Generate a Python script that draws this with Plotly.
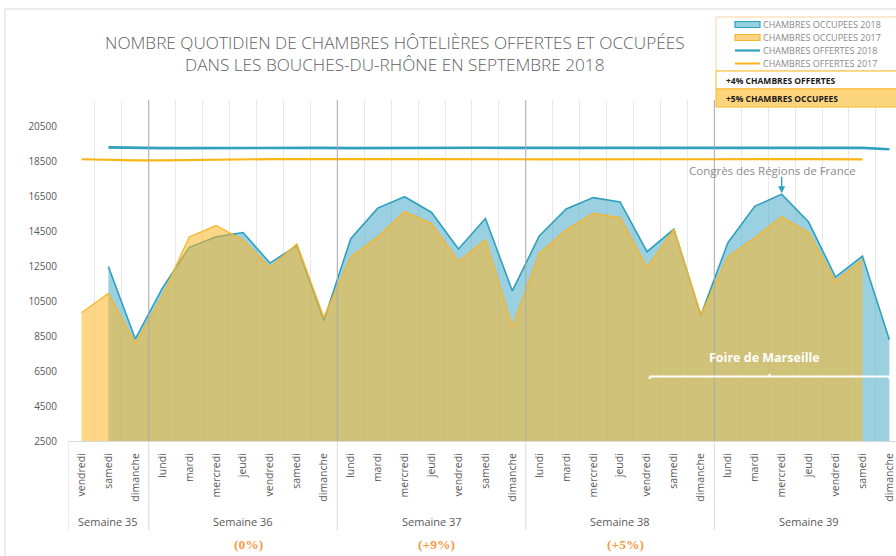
import plotly.graph_objects as go

# ---------------- data ----------------
day_labels = ["vendredi", "samedi", "dimanche"] + \
    ["lundi", "mardi", "mercredi", "jeudi", "vendredi", "samedi", "dimanche"] * 4
week_labels = ["Semaine 35", "Semaine 36", "Semaine 37", "Semaine 38", "Semaine 39"]
week_first_idx = [0, 3, 10, 17, 24]
week_last_idx = [2, 9, 16, 23, 30]
week_change = ["", "(0%)", "(+9%)", "(+5%)", ""]

occupees_2018 = [None, 12500, 8350, 11250, 13600, 14200, 14450, 12700, 13700, 9400,
                 14100, 15850, 16500, 15600, 13500, 15250, 11100,
                 14250, 15800, 16450, 16200, 13350, 14650, 9700,
                 13850, 15950, 16650, 15050, 11900, 13100, 8300]
occupees_2017 = [9850, 10950, 8100, 10800, 14200, 14850, 14000, 12450, 13800, 9600,
                 13050, 14200, 15650, 14950, 12800, 14050, 9050,
                 13250, 14600, 15550, 15300, 12450, 14650, 9750,
                 13050, 14150, 15350, 14450, 11650, 12900, None]
offertes_2018 = [None, 19330, 19300, 19290, 19290, 19300, 19310, 19310, 19310, 19300,
                 19290, 19300, 19310, 19310, 19320, 19310, 19300,
                 19300, 19310, 19320, 19320, 19310, 19300, 19300,
                 19300, 19310, 19320, 19320, 19310, 19300, 19220]
offertes_2017 = [18650, 18610, 18580, 18580, 18610, 18640, 18660, 18660, 18660, 18650,
                 18640, 18650, 18660, 18660, 18670, 18660, 18650,
                 18640, 18650, 18660, 18660, 18660, 18650, 18650,
                 18640, 18650, 18660, 18660, 18650, 18640, None]
y_ticks = [2500, 4500, 6500, 8500, 10500, 12500, 14500, 16500, 18500, 20500]
y_tick_text = [str(v) for v in y_ticks]
title_text = ("NOMBRE QUOTIDIEN DE CHAMBRES HÔTELIÈRES OFFERTES ET OCCUPÉES<br>"
              "DANS LES BOUCHES-DU-RHÔNE EN SEPTEMBRE 2018")

x_idx = list(range(len(day_labels)))

# ---------------- colours ----------------
BLUE_LINE = "#2FA0BD"
BLUE_FILL = "rgba(75,172,198,0.56)"
ORANGE_LINE = "#F7B52C"
ORANGE_FILL = "rgba(252,184,40,0.56)"
GREY_TXT = "#595959"

W, H = 896, 556
ML, MT, MR, MB = 68, 100, 0, 115
PW, PH = W - ML - MR, H - MT - MB


def xp(px):
    return (px - ML) / PW


def yp(py):
    return (H - MB - py) / PH


fig = go.Figure()

fig.add_trace(go.Scatter(x=x_idx, y=occupees_2018, mode="lines", fill="tozeroy",
                         fillcolor=BLUE_FILL, line=dict(color=BLUE_LINE, width=1.6),
                         name="CHAMBRES OCCUPEES 2018", hoverinfo="y"))
fig.add_trace(go.Scatter(x=x_idx, y=occupees_2017, mode="lines", fill="tozeroy",
                         fillcolor=ORANGE_FILL, line=dict(color=ORANGE_LINE, width=1.3),
                         name="CHAMBRES OCCUPEES 2017", hoverinfo="y"))
fig.add_trace(go.Scatter(x=x_idx, y=offertes_2018, mode="lines",
                         line=dict(color=BLUE_LINE, width=2.6),
                         name="CHAMBRES OFFERTES 2018", hoverinfo="y"))
fig.add_trace(go.Scatter(x=x_idx, y=offertes_2017, mode="lines",
                         line=dict(color="#FDB515", width=2.2),
                         name="CHAMBRES OFFERTES 2017", hoverinfo="y"))

px_per_unit = 26.93
x_right = PW / px_per_unit - 0.5

shapes = []
# chart border
shapes.append(dict(type="rect", xref="paper", yref="paper", x0=xp(5), x1=xp(905),
                   y0=yp(575), y1=yp(9), line=dict(color="#D9D9D9", width=1),
                   layer="below"))
# week separators
for i in week_first_idx[1:]:
    shapes.append(dict(type="line", xref="x", yref="paper", x0=i - 0.5, x1=i - 0.5,
                       y0=0, y1=1, line=dict(color="#ABABAB", width=1)))
for i in week_first_idx:
    shapes.append(dict(type="line", xref="x", yref="paper", x0=i - 0.5, x1=i - 0.5,
                       y0=yp(530), y1=0, line=dict(color="#D9D9D9", width=1)))

# Foire de Marseille bracket (white)
bracket_y = 6200
shapes.append(dict(type="line", xref="x", yref="y", x0=21.1, x1=30.0,
                   y0=bracket_y, y1=bracket_y, line=dict(color="white", width=2)))
for xb in (21.1, 30.0):
    shapes.append(dict(type="line", xref="x", yref="y", x0=xb, x1=xb,
                       y0=bracket_y, y1=bracket_y - 150, line=dict(color="white", width=2)))
shapes.append(dict(type="line", xref="x", yref="y", x0=25.55, x1=25.55,
                   y0=bracket_y, y1=bracket_y + 150, line=dict(color="white", width=2)))

# manual legend box
shapes.append(dict(type="rect", xref="paper", yref="paper", x0=xp(716), x1=xp(900),
                   y0=yp(71), y1=yp(17), fillcolor="white",
                   line=dict(color="#F9D3A0", width=1)))
shapes.append(dict(type="rect", xref="paper", yref="paper", x0=xp(716), x1=xp(900),
                   y0=yp(89), y1=yp(71), fillcolor="white",
                   line=dict(color="#FBB829", width=1)))
shapes.append(dict(type="rect", xref="paper", yref="paper", x0=xp(716), x1=xp(900),
                   y0=yp(107), y1=yp(89), fillcolor="#FDD47E",
                   line=dict(color="#FBB829", width=1)))
leg_rows = [24.5, 37.5, 50.5, 63.5]
shapes.append(dict(type="rect", xref="paper", yref="paper", x0=xp(735), x1=xp(760),
                   y0=yp(leg_rows[0] + 3), y1=yp(leg_rows[0] - 3), fillcolor="#93D1DE",
                   line=dict(color=BLUE_LINE, width=1.2)))
shapes.append(dict(type="rect", xref="paper", yref="paper", x0=xp(735), x1=xp(760),
                   y0=yp(leg_rows[1] + 3), y1=yp(leg_rows[1] - 3), fillcolor="#FDD484",
                   line=dict(color=ORANGE_LINE, width=1.2)))
shapes.append(dict(type="line", xref="paper", yref="paper", x0=xp(735), x1=xp(760),
                   y0=yp(leg_rows[2]), y1=yp(leg_rows[2]),
                   line=dict(color=BLUE_LINE, width=2.2)))
shapes.append(dict(type="line", xref="paper", yref="paper", x0=xp(735), x1=xp(760),
                   y0=yp(leg_rows[3]), y1=yp(leg_rows[3]),
                   line=dict(color="#FDB515", width=2)))

annotations = []
# title (two lines in one text)
annotations.append(dict(text=title_text, xref="paper", yref="paper", x=xp(395),
                        y=yp(53.5), xanchor="center", yanchor="middle", showarrow=False,
                        font=dict(family="Open Sans", size=17.2, color="#5F5F5F",
                                  weight=300)))

names = [t.name for t in fig.data]
for name, row in zip(names, leg_rows):
    annotations.append(dict(text=name, xref="paper", yref="paper", x=xp(761), y=yp(row),
                            xanchor="left", yanchor="middle", showarrow=False,
                            font=dict(family="Open Sans", size=9, color="#8A8A8A")))
annotations.append(dict(text="+4% CHAMBRES OFFERTES", xref="paper", yref="paper",
                        x=xp(724), y=yp(80), xanchor="left", yanchor="middle",
                        showarrow=False,
                        font=dict(family="Open Sans", size=8.5, color="#1A1A1A", weight="bold")))
annotations.append(dict(text="+5% CHAMBRES OCCUPEES", xref="paper", yref="paper",
                        x=xp(724), y=yp(98), xanchor="left", yanchor="middle",
                        showarrow=False,
                        font=dict(family="Open Sans", size=8.5, color="#1A1A1A", weight="bold")))

# week labels and changes
for lab, a, b, ch in zip(week_labels, week_first_idx, week_last_idx, week_change):
    annotations.append(dict(text=lab, xref="x", yref="paper", x=(a + b) / 2, y=yp(521),
                            xanchor="center", yanchor="middle", showarrow=False,
                            font=dict(family="Open Sans", size=11, color=GREY_TXT)))
    if ch:
        annotations.append(dict(text="<b>" + ch + "</b>", xref="x", yref="paper",
                                x=(a + b) / 2 + 0.2, y=yp(544), xanchor="center",
                                yanchor="middle", showarrow=False,
                                font=dict(family="Liberation Serif", size=13.5,
                                          color="#F79A46")))

# event annotations
annotations.append(dict(text="Congrès des Régions de France", xref="x", yref="y",
                        x=25.66, y=17980, xanchor="center", yanchor="middle",
                        showarrow=False,
                        font=dict(family="Open Sans", size=11.5, color="#8C8C8C")))
annotations.append(dict(text="", xref="x", yref="y", x=26, y=occupees_2018[26] + 50,
                        ax=0, ay=-18, showarrow=True, arrowhead=2, arrowsize=1,
                        arrowwidth=1.4, arrowcolor=BLUE_LINE))
annotations.append(dict(text="<b>Foire de Marseille</b>", xref="x", yref="y",
                        x=25.36, y=7270, xanchor="center", yanchor="middle",
                        showarrow=False,
                        font=dict(family="Open Sans", size=12.5, color="white")))

fig.update_layout(
    width=W, height=H,
    margin=dict(l=ML, r=MR, t=MT, b=MB, pad=0, autoexpand=False),
    paper_bgcolor="white", plot_bgcolor="white",
    showlegend=False,
    shapes=shapes,
    annotations=annotations,
)
fig.update_xaxes(
    automargin=False,
    range=[-0.5, x_right], tickmode="array", tickvals=x_idx, ticktext=day_labels,
    tickangle=-90, showgrid=False, zeroline=False, ticks="",
    tickfont=dict(family="Open Sans", size=10.5, color=GREY_TXT),
    showline=True, linecolor="#D9D9D9", linewidth=1,
    ticklabelstandoff=7,
    minor=dict(tickvals=[i - 0.5 for i in range(len(day_labels) + 1)], showgrid=True,
               gridcolor="#E8E8E8", gridwidth=1, ticks=""),
)
fig.update_yaxes(
    automargin=False,
    range=[2500, 2500 + PH * 57.32], tickmode="array", tickvals=y_ticks,
    ticktext=y_tick_text,
    showgrid=False, zeroline=False, ticks="",
    tickfont=dict(family="Open Sans", size=10, color=GREY_TXT),
    ticklabelstandoff=10,
)

fig.write_html("out.html", config={"displayModeBar": False},
               post_script="document.body.style.margin='0';")
